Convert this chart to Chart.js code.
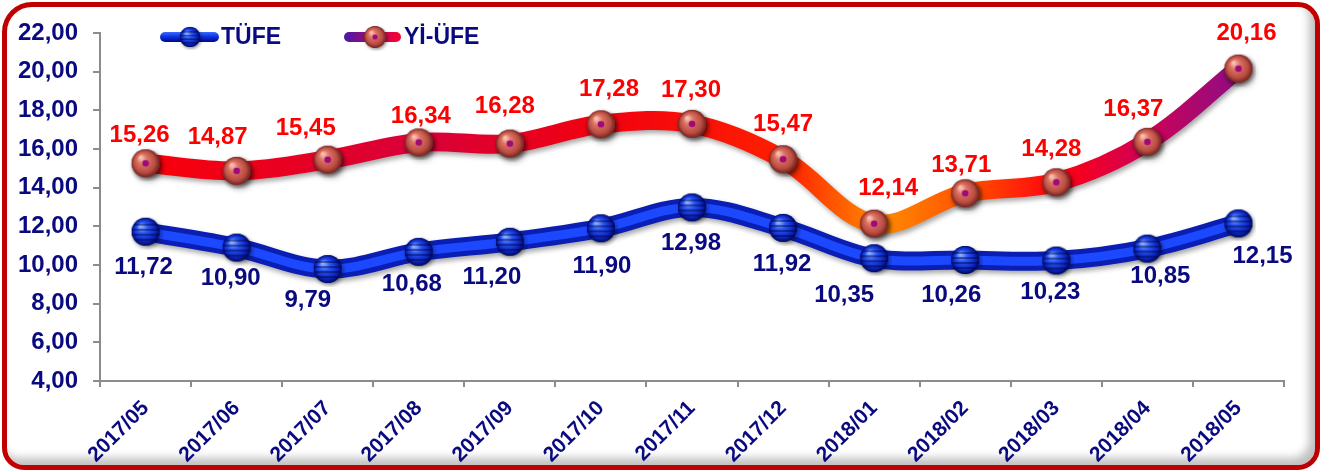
<!DOCTYPE html>
<html>
<head>
<meta charset="utf-8">
<script src="https://cdn.jsdelivr.net/npm/chart.js@4.4.1/dist/chart.umd.min.js"></script>
<style>
    html, body { margin: 0; padding: 0; background: #fff; }
    #frame {
        position: absolute; left: 2px; top: 2px; width: 1308px; height: 458px;
        border: 5px solid #c00000; border-radius: 30px 22px 22px 22px;
        box-shadow: inset -6px -7px 8px rgba(0, 0, 0, 0.25);
    }
    #chart { position: absolute; left: 0; top: 0; }
</style>
</head>
<body>
<div id="frame"></div>
<canvas id="chart" width="1330" height="472"></canvas>
<script>
// chart data
const months = ['2017/05', '2017/06', '2017/07', '2017/08', '2017/09', '2017/10', '2017/11',
                '2017/12', '2018/01', '2018/02', '2018/03', '2018/04', '2018/05'];
const tufe   = [11.72, 10.90, 9.79, 10.68, 11.20, 11.90, 12.98, 11.92, 10.35, 10.26, 10.23, 10.85, 12.15];
const yiufe  = [15.26, 14.87, 15.45, 16.34, 16.28, 17.28, 17.30, 15.47, 12.14, 13.71, 14.28, 16.37, 20.16];
const seriesNames = ['TÜFE', 'Yİ-ÜFE'];
const yMin = 4, yMax = 22, yStep = 2;

// label nudges (px) so the value texts sit like in the original
const tufeLabelNudge  = [[-2,36],[-6,31],[-20,31],[-7,33],[-18,36],[1,38],[-1,36],[-1,36],[-30,37],[-14,35],[-6,32],[13,28],[24,33]];
const yiufeLabelNudge = [[-6,-28],[-19,-33],[-22,-31],[2,-26],[-5,-37],[8,-35],[-1,-33],[0,-35],[14,-35],[-4,-28],[-5,-33],[-14,-32],[8,-35]];

const FONT = "'Liberation Sans', Arial, sans-serif";
const NAVY = '#0a0a80';

const fmt = v => v.toFixed(2).replace('.', ',');

// sphere markers
function makeBall(kind) {
    const c = document.createElement('canvas');
    c.width = 36; c.height = 36;
    const g = c.getContext('2d');
    const cx = 18, cy = 18, r = 14;
    // soft shadow
    g.save();
    g.shadowColor = 'rgba(0,0,0,0.45)';
    g.shadowBlur = 4; g.shadowOffsetX = 1.5; g.shadowOffsetY = 2;
    g.beginPath(); g.arc(cx, cy, r, 0, Math.PI * 2);
    g.fillStyle = kind === 'blue' ? '#0a20b0' : '#b84a40';
    g.fill();
    g.restore();

    const rg = g.createRadialGradient(cx - 5, cy - 6, 1, cx, cy, r);
    if (kind === 'blue') {
        rg.addColorStop(0, '#8fb0ff');
        rg.addColorStop(0.35, '#2a58f5');
        rg.addColorStop(0.8, '#0b22b8');
        rg.addColorStop(1, '#000a55');
    } else {
        rg.addColorStop(0, '#f8c2b4');
        rg.addColorStop(0.3, '#dc7563');
        rg.addColorStop(0.75, '#bb4c42');
        rg.addColorStop(1, '#6e2420');
    }
    g.beginPath(); g.arc(cx, cy, r, 0, Math.PI * 2);
    g.fillStyle = rg; g.fill();

    if (kind === 'blue') {
        g.save();
        g.beginPath(); g.arc(cx, cy, r, 0, Math.PI * 2); g.clip();
        g.fillStyle = 'rgba(0,0,70,0.45)';
        [-8, -3, 2, 7].forEach(d => g.fillRect(cx - r, cy + d, r * 2, 2));
        g.restore();
    } else {
        g.beginPath(); g.arc(cx, cy, 3.3, 0, Math.PI * 2);
        g.fillStyle = '#a0087e'; g.fill();
    }
    return c;
}
const blueBall = makeBall('blue');
const redBall = makeBall('red');

// Yİ-ÜFE line colour runs red -> orange at the dip -> purple at the end
function redGradient(context) {
    const chart = context.chart;
    const area = chart.chartArea;
    if (!area) return '#ff0000';
    const g = chart.ctx.createLinearGradient(area.left, 0, area.right, 0);
    g.addColorStop(0.00, '#ff0000');
    g.addColorStop(0.27, '#d8003a');
    g.addColorStop(0.42, '#f20010');
    g.addColorStop(0.58, '#ff2000');
    g.addColorStop(0.66, '#ff8c00');
    g.addColorStop(0.74, '#ff4a00');
    g.addColorStop(0.81, '#ff0010');
    g.addColorStop(0.87, '#d8004a');
    g.addColorStop(0.94, '#a00a78');
    g.addColorStop(1.00, '#7a0a8e');
    return g;
}

const shadowPlugin = {
    id: 'lineShadow',
    beforeDatasetDraw(chart, args) {
        const ctx = chart.ctx;
        ctx.save();
        if (chart.data.datasets[args.index].shadow) {
            ctx.shadowColor = 'rgba(0,0,0,0.35)';
            ctx.shadowBlur = 5;
            ctx.shadowOffsetX = 2;
            ctx.shadowOffsetY = 3;
        }
    },
    afterDatasetDraw(chart) {
        chart.ctx.restore();
    }
};

const valueLabels = {
    id: 'valueLabels',
    afterDatasetsDraw(chart) {
        const ctx = chart.ctx;
        ctx.save();
        ctx.font = 'bold 24px ' + FONT;
        ctx.textAlign = 'center';
        ctx.textBaseline = 'middle';
        chart.data.datasets.forEach((ds, i) => {
            if (!ds.labelColor) return;
            const meta = chart.getDatasetMeta(i);
            ctx.fillStyle = ds.labelColor;
            meta.data.forEach((pt, j) => {
                const n = ds.nudge[j];
                ctx.fillText(fmt(ds.data[j]), pt.x + n[0], pt.y + n[1]);
            });
        });
        ctx.restore();
    }
};

const sketchLegend = {
    id: 'sketchLegend',
    afterDraw(chart) {
        const ctx = chart.ctx;
        const y = 37;
        ctx.save();
        // TÜFE
        let lg = ctx.createLinearGradient(0, y - 5, 0, y + 5);
        lg.addColorStop(0, '#3a6bff'); lg.addColorStop(0.5, '#0a2ee0'); lg.addColorStop(1, '#000a80');
        ctx.fillStyle = lg;
        ctx.beginPath(); ctx.roundRect(160, y - 5, 59, 10, 5); ctx.fill();
        ctx.drawImage(blueBall, 190 - 13, y - 13, 26, 26);
        // Yİ-ÜFE
        lg = ctx.createLinearGradient(344, 0, 401, 0);
        lg.addColorStop(0, '#4a18a8'); lg.addColorStop(1, '#ff0030');
        ctx.fillStyle = lg;
        ctx.beginPath(); ctx.roundRect(344, y - 5, 57, 10, 5); ctx.fill();
        ctx.drawImage(redBall, 375 - 14, y - 14, 28, 28);

        ctx.font = 'bold 23px ' + FONT;
        ctx.fillStyle = NAVY;
        ctx.textBaseline = 'middle';
        ctx.fillText(seriesNames[0], 221, y + 1);
        ctx.fillText(seriesNames[1], 404, y + 1);
        ctx.restore();
    }
};

new Chart(document.getElementById('chart').getContext('2d'), {
    type: 'line',
    data: {
        labels: months,
        datasets: [
            {
                label: seriesNames[1],
                data: yiufe,
                borderColor: redGradient,
                borderWidth: 19,
                borderCapStyle: 'round',
                borderJoinStyle: 'round',
                tension: 0.35,
                pointStyle: redBall,
                pointRadius: 14,
                shadow: true,
                labelColor: '#ff0000',
                nudge: yiufeLabelNudge,
                order: 1
            },
            {
                label: seriesNames[0],
                data: tufe,
                borderColor: '#0a1eb4',
                borderWidth: 19,
                borderCapStyle: 'round',
                borderJoinStyle: 'round',
                tension: 0.35,
                pointRadius: 0,
                shadow: true,
                order: 3
            },
            {
                label: seriesNames[0],
                data: tufe,
                borderColor: '#1c48ff',
                borderWidth: 9,
                borderCapStyle: 'round',
                borderJoinStyle: 'round',
                tension: 0.35,
                pointStyle: blueBall,
                pointRadius: 14,
                labelColor: NAVY,
                nudge: tufeLabelNudge,
                order: 2
            }
        ]
    },
    options: {
        responsive: false,
        animation: false,
        layout: { padding: { top: 33, right: 46, left: 3, bottom: 0 } },
        plugins: { legend: { display: false }, tooltip: { enabled: false } },
        scales: {
            x: {
                offset: true,
                afterFit: s => { s.height = 91; },
                grid: { offset: true, drawOnChartArea: false, tickLength: 6, color: '#8c8c8c', lineWidth: 2 },
                border: { color: '#8c8c8c', width: 2 },
                ticks: {
                    color: NAVY, font: { family: FONT, size: 21, weight: 'bold' },
                    minRotation: 45, maxRotation: 45, padding: 9, autoSkip: false
                }
            },
            y: {
                min: yMin, max: yMax,
                grid: { drawOnChartArea: false, tickLength: 7, color: '#8c8c8c', lineWidth: 2 },
                border: { color: '#8c8c8c', width: 2 },
                ticks: {
                    stepSize: yStep, color: NAVY, padding: 15,
                    font: { family: FONT, size: 24, weight: 'bold' },
                    callback: v => fmt(v)
                }
            }
        }
    },
    plugins: [shadowPlugin, valueLabels, sketchLegend]
});
</script>
</body>
</html>
